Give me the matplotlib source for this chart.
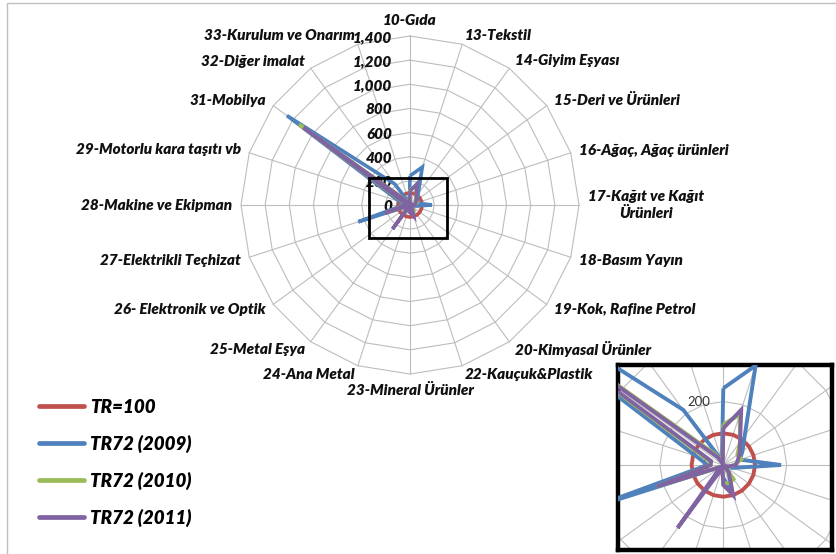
import numpy as np
import matplotlib
matplotlib.use("Agg")
import matplotlib.pyplot as plt
from matplotlib.patches import Rectangle

categories = ["10-Gıda", "13-Tekstil", "14-Giyim Eşyası", "15-Deri ve Ürünleri",
              "16-Ağaç, Ağaç ürünleri", "17-Kağıt ve Kağıt\nÜrünleri", "18-Basım Yayın",
              "19-Kok, Rafine Petrol", "20-Kimyasal Ürünler", "22-Kauçuk&Plastik",
              "23-Mineral Ürünler", "24-Ana Metal", "25-Metal Eşya", "26- Elektronik ve Optik",
              "27-Elektrikli Teçhizat", "28-Makine ve Ekipman", "29-Motorlu kara taşıtı vb",
              "31-Mobilya", "32-Diğer imalat", "33-Kurulum ve Onarım"]

tr100 = [100] * 20
tr72_2009 = [242, 330, 115, 75, 55, 182, 30, 5, 30, 88, 40, 15, 60, 10, 450, 50, 90, 1260, 215, 15]
tr72_2010 = [128, 167, 90, 55, 60, 35, 20, 5, 55, 60, 58, 10, 40, 10, 220, 40, 50, 1135, 40, 10]
tr72_2011 = [116, 183, 90, 64, 48, 40, 15, 5, 30, 100, 63, 10, 245, 10, 220, 40, 40, 1090, 30, 5]

series_names = ["TR=100", "TR72 (2009)", "TR72 (2010)", "TR72 (2011)"]
series_colors = ["#C0504D", "#4F81BD", "#9BBB59", "#8064A2"]
main_ticks = [0, 200, 400, 600, 800, 1000, 1200, 1400]
inset_ticks = [0, 200]

FONT = "Lato"
WEIGHT = "heavy"
W, H = 836, 554
fig = plt.figure(figsize=(W / 100, H / 100), dpi=100)

n = len(categories)
theta = np.deg2rad(np.arange(n) * 360.0 / n)


def xy(vals):
    v = np.asarray(vals, dtype=float)
    v = np.append(v, v[0])
    t = np.append(theta, theta[0])
    return v * np.sin(t), v * np.cos(t)


def draw_radar(ax, rings, spoke_len, lw):
    for r in rings:
        gx, gy = xy([r] * n)
        ax.plot(gx, gy, color="#BDBDBD", lw=0.8, zorder=1)
    for t in theta:
        ax.plot([0, spoke_len * np.sin(t)], [0, spoke_len * np.cos(t)],
                color="#BDBDBD", lw=0.8, zorder=1)
    handles = []
    for k, (vals, c, name) in enumerate(zip([tr100, tr72_2009, tr72_2010, tr72_2011],
                                            series_colors, series_names)):
        px, py = xy(vals)
        h, = ax.plot(px, py, color=c, lw=lw, solid_joinstyle="miter",
                     solid_capstyle="butt", zorder=3 + k, label=name)
        handles.append(h)
    return handles


# ---------------- main chart ----------------
cx, cy = 410, 205
s = 169 / 1400.0
ax = fig.add_axes([0, 0, 1, 1])
ax.set_xlim(-cx / s, (W - cx) / s)
ax.set_ylim(-(H - cy) / s, cy / s)
ax.axis("off")

handles = draw_radar(ax, main_ticks[1:], 1400, 2.6)

for v in main_ticks:
    ax.text(-18 / s, v - 1.5 / s, f"{v:,}", ha="right", va="center", fontsize=11,
            fontfamily=FONT, fontweight=WEIGHT, fontstyle="italic", color="#111111")

rlab = 178 / s
for t, lab in zip(theta, categories):
    sx, sy = np.sin(t), np.cos(t)
    if sx > 0.01:
        ha = "left"
    elif sx < -0.01:
        ha = "right"
    else:
        ha = "center"
    va = "center"
    if sy > 0.99:
        va = "bottom"
    elif sy < -0.99:
        va = "top"
    ax.text(rlab * sx, rlab * sy, lab, ha=ha, va=va, multialignment="center",
            fontsize=11, fontfamily=FONT, fontweight=WEIGHT, fontstyle="italic",
            color="#111111", linespacing=1.2)

# zoom box on main chart
bx0, by0, bx1, by1 = 369, 178, 447, 238
ax.add_patch(Rectangle(((bx0 - cx) / s, (cy - by1) / s), (bx1 - bx0) / s, (by1 - by0) / s,
                       fill=False, ec="black", lw=2.0, zorder=10))

# outer chart border
fig.add_artist(Rectangle((7 / W, -0.05), 1.2, 1 - 3 / H + 0.05, transform=fig.transFigure,
                         fill=False, ec="#BFBFBF", lw=1.0))

leg = ax.legend(handles=handles, loc="upper left", bbox_to_anchor=(22 / W, 1 - 382 / H),
                bbox_transform=fig.transFigure, frameon=False,
                prop={"family": FONT, "weight": WEIGHT, "style": "italic", "size": 13.5},
                handlelength=2.4, handletextpad=0.35, labelspacing=1.0)
for lh in leg.get_lines():
    lh.set_linewidth(3.4)
    lh.set_solid_capstyle("round")

# ---------------- inset ----------------
ix0, iy0, ix1, iy1 = 618, 365, 832, 550
icx, icy = 723.3, 465
si = 31.7 / 100.0
axi = fig.add_axes([ix0 / W, 1 - iy1 / H, (ix1 - ix0) / W, (iy1 - iy0) / H])
axi.set_xlim((ix0 - icx) / si, (ix1 - icx) / si)
axi.set_ylim(-(iy1 - icy) / si, (icy - iy0) / si)
axi.set_xticks([])
axi.set_yticks([])
for sp in axi.spines.values():
    sp.set_linewidth(3.2)
    sp.set_color("black")
draw_radar(axi, [200, 400, 600], 800, 2.8)
for v in inset_ticks:
    axi.text(-13 / si, v, f"{v:,}", ha="right", va="center", fontsize=9.5,
             fontfamily=FONT, color="#333333", zorder=2)

fig.savefig("out.png", dpi=100)
